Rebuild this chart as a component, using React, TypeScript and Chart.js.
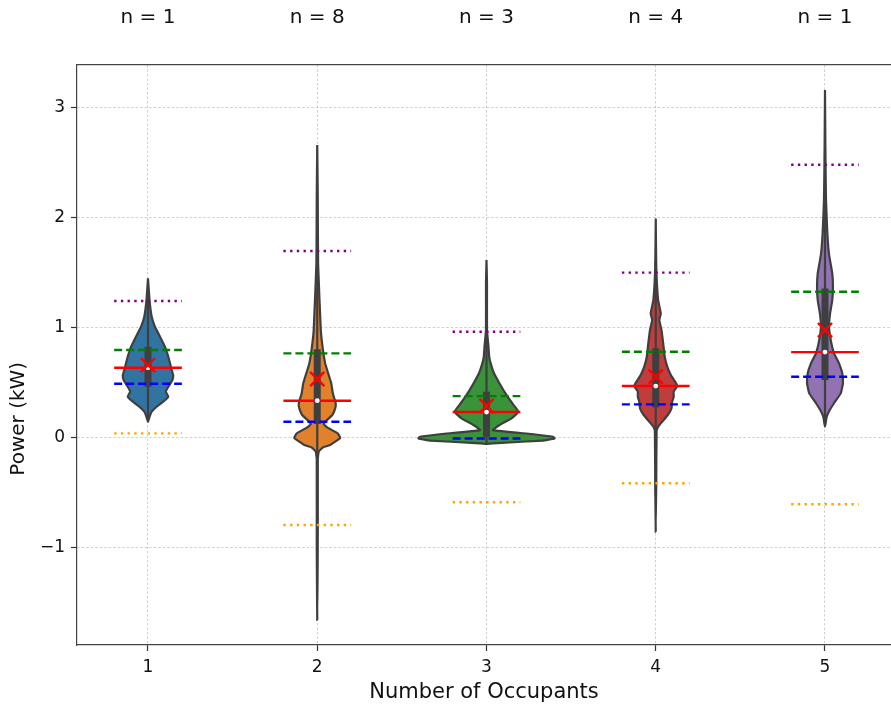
import React, { useEffect, useRef } from 'react';
import { Chart, registerables } from 'chart.js';

Chart.register(...registerables);

// ---------- data ----------
const categories = [1, 2, 3, 4, 5];
const sampleCounts = [1, 8, 3, 4, 1];
const yTickValues = [-1, 0, 1, 2, 3];
const violinColors = ['#3274a1', '#e1812c', '#3a923a', '#c03d3e', '#9372b2'];

// violin outlines: power levels (kW, top to bottom) and half-widths (category units)
const violin1Power = [1.445, 1.248, 1.096, 1.005, 0.915, 0.824, 0.733, 0.673, 0.612, 0.566, 0.521, 0.46, 0.415, 0.369, 0.324, 0.278, 0.233, 0.187, 0.142];
const violin1Width = [0, 0.009, 0.022, 0.041, 0.071, 0.1, 0.12, 0.13, 0.14, 0.149, 0.144, 0.12, 0.105, 0.12, 0.09, 0.051, 0.022, 0.009, 0];

const violin2Power = [2.657, 2.19, 1.58, 0.975, 0.79, 0.67, 0.61, 0.49, 0.4, 0.31, 0.263, 0.203, 0.142, 0.12, 0.09, 0.036, -0.005, -0.04, -0.07, -0.09, -0.13, -0.2, -1.0, -1.66];
const violin2Width = [0, 0.003, 0.005, 0.021, 0.034, 0.047, 0.059, 0.083, 0.092, 0.109, 0.106, 0.089, 0.047, 0.038, 0.059, 0.121, 0.136, 0.106, 0.077, 0.035, 0.009, 0.003, 0.003, 0];

const violin3Power = [1.612, 1.4, 0.976, 0.82, 0.733, 0.67, 0.58, 0.49, 0.4, 0.31, 0.233, 0.173, 0.112, 0.066, 0.03, 0.005, -0.01, -0.03, -0.05, -0.06];
const violin3Width = [0, 0.003, 0.003, 0.012, 0.016, 0.025, 0.045, 0.077, 0.112, 0.152, 0.189, 0.148, 0.077, 0.038, 0.266, 0.393, 0.402, 0.331, 0.089, 0];

const violin4Power = [1.99, 1.55, 1.248, 1.127, 1.066, 0.975, 0.855, 0.733, 0.642, 0.566, 0.505, 0.466, 0.415, 0.369, 0.324, 0.264, 0.203, 0.142, 0.096, 0.051, -0.4, -0.858];
const violin4Width = [0, 0.003, 0.014, 0.03, 0.021, 0.034, 0.044, 0.053, 0.068, 0.089, 0.115, 0.127, 0.106, 0.106, 0.097, 0.093, 0.071, 0.038, 0.014, 0.005, 0.003, 0];

const violin5Power = [3.157, 2.49, 2.157, 1.855, 1.66, 1.49, 1.369, 1.248, 1.127, 1.005, 0.885, 0.764, 0.673, 0.582, 0.49, 0.4, 0.31, 0.248, 0.187, 0.096];
const violin5Width = [0, 0.003, 0.006, 0.014, 0.024, 0.043, 0.047, 0.043, 0.03, 0.024, 0.034, 0.053, 0.083, 0.102, 0.106, 0.093, 0.053, 0.028, 0.01, 0];

const violinPower = [violin1Power, violin2Power, violin3Power, violin4Power, violin5Power];
const violinWidth = [violin1Width, violin2Width, violin3Width, violin4Width, violin5Width];

// inner box
const q1Values = [0.46, 0.121, 0.005, 0.273, 0.521];
const q3Values = [0.824, 0.8, 0.415, 0.81, 1.354];
const whiskerLow = [0.15, -0.9, -0.06, -0.53, 0.1];
const whiskerHigh = [1.37, 1.82, 1.03, 1.62, 2.6];

// reference lines
const upperDotted = [1.24, 1.694, 0.96, 1.497, 2.478];
const upperDashed = [0.794, 0.763, 0.375, 0.778, 1.324];
const medianValues = [0.633, 0.333, 0.23, 0.466, 0.775];
const lowerDashed = [0.487, 0.142, -0.01, 0.3, 0.551];
const lowerDotted = [0.036, -0.797, -0.59, -0.418, -0.609];
const meanValues = [0.657, 0.53, 0.285, 0.551, 0.975];

// ---------- helpers ----------
const FONT = '"DejaVu Sans", sans-serif';
const X_MIN = 0.5805;
const X_MAX = 5.39;
const Y_MIN = -1.888;
const Y_MAX = 3.385;
const HALF = 0.2;
const OUTLINE = '#3f3f3f';
const Y_TITLE = 'Power (kW)';

function violinPoints(i: number) {
  const c = categories[i];
  const P = violinPower[i];
  const W = violinWidth[i];
  const pts: { x: number; y: number }[] = [];
  for (let k = 0; k < P.length; k++) pts.push({ x: c + W[k], y: P[k] });
  for (let k = P.length - 2; k >= 0; k--) pts.push({ x: c - W[k], y: P[k] });
  return pts;
}

function hSegments(values: number[]) {
  const pts: { x: number; y: number | null }[] = [];
  values.forEach((v, i) => {
    const c = categories[i];
    pts.push({ x: c - HALF, y: v }, { x: c + HALF, y: v }, { x: c + 0.5, y: null });
  });
  return pts;
}

function vSegments(lo: number[], hi: number[]) {
  const pts: { x: number; y: number | null }[] = [];
  lo.forEach((v, i) => {
    const c = categories[i];
    pts.push({ x: c, y: v }, { x: c, y: hi[i] }, { x: c + 0.5, y: null });
  });
  return pts;
}

function statLine(values: number[], color: string, dash: number[], order: number) {
  return {
    type: 'line' as const,
    data: hSegments(values),
    borderColor: color,
    borderWidth: 2.4,
    borderDash: dash,
    borderCapStyle: 'butt' as const,
    pointRadius: 0,
    fill: false,
    spanGaps: false,
    order,
    xAxisID: 'x',
    yAxisID: 'y',
  };
}

const gridOpts = {
  color: 'rgba(176,176,176,0.75)',
  lineWidth: 0.8,
  tickLength: 6,
  tickColor: '#333',
  tickWidth: 1.2,
};
const borderOpts = { display: true, color: '#444', width: 1.2, dash: [2.5, 2] };

// y-axis title drawn beside the plot, centred lower as in the reference
const yTitlePlugin = {
  id: 'yTitle',
  afterDraw(chart: any) {
    const { ctx, chartArea } = chart;
    const y = chartArea.top + (chartArea.bottom - chartArea.top) * 0.61;
    ctx.save();
    ctx.translate(19, y);
    ctx.rotate(-Math.PI / 2);
    ctx.font = `20px ${FONT}`;
    ctx.fillStyle = '#111';
    ctx.textAlign = 'center';
    ctx.textBaseline = 'middle';
    ctx.fillText(Y_TITLE, 0, 0);
    ctx.restore();
  },
};

export default function App() {
  const ref = useRef<HTMLCanvasElement | null>(null);

  useEffect(() => {
    if (!ref.current) return;
    const datasets: any[] = [];

    categories.forEach((c, i) => {
      datasets.push({
        type: 'line',
        data: violinPoints(i),
        borderColor: OUTLINE,
        borderWidth: 2.2,
        backgroundColor: violinColors[i],
        fill: 'shape',
        tension: 0.1,
        pointRadius: 0,
        order: 10,
        xAxisID: 'x',
        yAxisID: 'y',
      });
    });

    datasets.push({
      type: 'line',
      data: vSegments(whiskerLow, whiskerHigh),
      borderColor: OUTLINE,
      borderWidth: 2.2,
      borderCapStyle: 'butt',
      pointRadius: 0,
      spanGaps: false,
      order: 9,
      xAxisID: 'x',
      yAxisID: 'y',
    });
    datasets.push({
      type: 'line',
      data: vSegments(q1Values, q3Values),
      borderColor: OUTLINE,
      borderWidth: 7,
      borderCapStyle: 'butt',
      pointRadius: 0,
      spanGaps: false,
      order: 8,
      xAxisID: 'x',
      yAxisID: 'y',
    });

    datasets.push(statLine(lowerDotted, '#ffa500', [2.4, 4.3], 7));
    datasets.push(statLine(upperDotted, '#800080', [2.4, 4.3], 7));
    datasets.push(statLine(lowerDashed, '#0000ff', [8, 4], 6));
    datasets.push(statLine(upperDashed, '#008000', [8, 4], 6));
    datasets.push(statLine(medianValues, '#ff0000', [], 5));

    datasets.push({
      type: 'line',
      data: categories.map((c, i) => ({ x: c, y: medianValues[i] })),
      showLine: false,
      pointRadius: 2.4,
      pointBorderWidth: 0,
      pointBackgroundColor: '#ffffff',
      pointBorderColor: '#ffffff',
      order: 2,
      xAxisID: 'x',
      yAxisID: 'y',
    });
    datasets.push({
      type: 'line',
      data: categories.map((c, i) => ({ x: c, y: meanValues[i] })),
      showLine: false,
      pointStyle: 'crossRot',
      pointRadius: 10,
      pointBorderWidth: 2.4,
      pointBorderColor: '#ff0000',
      pointBackgroundColor: '#ff0000',
      order: 1,
      xAxisID: 'x',
      yAxisID: 'y',
    });

    const catTicks = (s: any) => {
      s.ticks = categories.map((v) => ({ value: v }));
    };
    const fitX = (h: number) => (s: any) => {
      s.height = h;
      s.paddingLeft = 0;
      s.paddingRight = 0;
      s.paddingTop = 0;
      s.paddingBottom = 0;
    };

    const chart = new Chart(ref.current, {
      type: 'line',
      data: { datasets },
      plugins: [yTitlePlugin],
      options: {
        animation: false,
        responsive: true,
        maintainAspectRatio: false,
        events: [],
        layout: { padding: 0, autoPadding: false },
        plugins: {
          legend: { display: false },
          tooltip: { enabled: false },
        },
        scales: {
          x: {
            type: 'linear',
            position: 'bottom',
            min: X_MIN,
            max: X_MAX,
            afterBuildTicks: catTicks,
            afterFit: fitX(66),
            ticks: {
              font: { family: FONT, size: 17 },
              color: '#111',
              padding: 6,
              maxRotation: 0,
              autoSkip: false,
              callback: (v: any) => String(v),
            },
            grid: gridOpts,
            border: borderOpts,
            title: {
              display: true,
              text: 'Number of Occupants',
              font: { family: FONT, size: 21 },
              color: '#111',
              padding: { top: 0, bottom: 6 },
            },
          },
          xTop: {
            type: 'linear',
            axis: 'x',
            position: 'top',
            min: X_MIN,
            max: X_MAX,
            afterBuildTicks: catTicks,
            afterFit: fitX(65),
            ticks: {
              font: { family: FONT, size: 20 },
              color: '#111',
              padding: 27,
              maxRotation: 0,
              autoSkip: false,
              callback: (v: any) => `n = ${sampleCounts[categories.indexOf(Number(v))]}`,
            },
            grid: { display: false },
            border: { display: true, color: '#444', width: 1.2 },
          },
          y: {
            type: 'linear',
            position: 'left',
            min: Y_MIN,
            max: Y_MAX,
            afterBuildTicks: (s: any) => {
              s.ticks = yTickValues.map((v) => ({ value: v }));
            },
            afterFit: (s: any) => {
              s.width = 77;
              s.paddingTop = 0;
              s.paddingBottom = 0;
            },
            ticks: {
              font: { family: FONT, size: 17 },
              color: '#111',
              padding: 6,
              callback: (v: any) => (Number(v) < 0 ? '\u2212' + Math.abs(Number(v)) : String(v)),
            },
            grid: gridOpts,
            border: borderOpts,
          },
        },
      } as any,
    });

    return () => chart.destroy();
  }, []);

  return (
    <div style={{ position: 'fixed', left: 0, top: 0, width: 891, height: 711, background: '#fff' }}>
      <canvas ref={ref} />
    </div>
  );
}
